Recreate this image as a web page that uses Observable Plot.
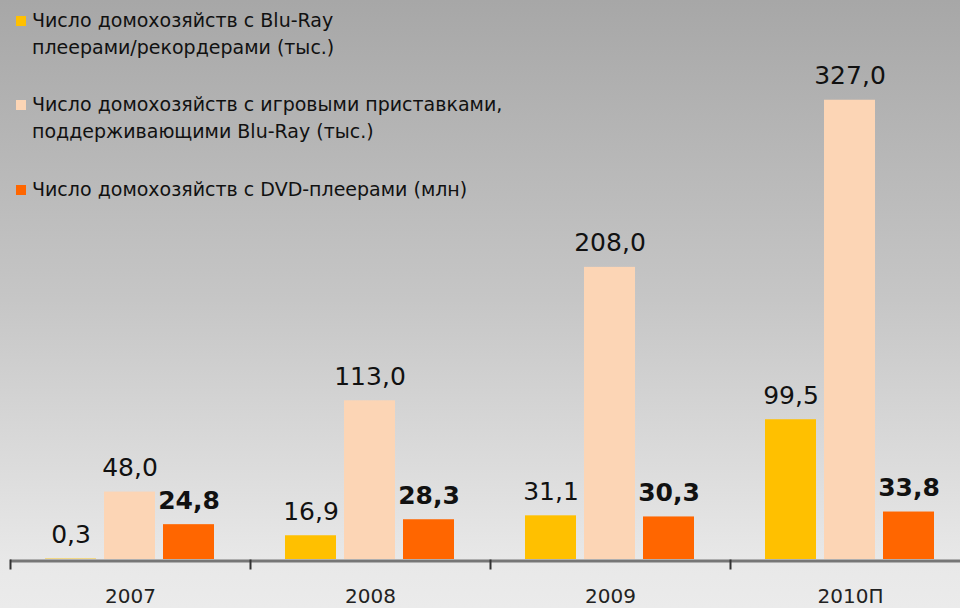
<!DOCTYPE html>
<html>
<head>
<meta charset="utf-8">
<script src="https://cdn.jsdelivr.net/npm/d3@7"></script>
<script src="https://cdn.jsdelivr.net/npm/@observablehq/plot@0.6"></script>
<style>
  html, body { margin: 0; padding: 0; }
  #wrap {
    position: relative; width: 960px; height: 608px; overflow: hidden;
    background: linear-gradient(to bottom, #a7a7a7 0px, #c6c6c6 300px, #e8e8e8 560px, #ebebeb 608px);
    font-family: "DejaVu Sans", Verdana, sans-serif;
  }
  #legend { position: absolute; left: 16px; top: 7px; color: #111; font-size: 19px; line-height: 27px; }
  .item { display: flex; align-items: flex-start; }
  .sw { width: 10px; height: 10px; margin-top: 9px; margin-right: 6px; flex: none; }
  #chart { position: absolute; left: 0; top: 0; }
</style>
</head>
<body>
<div id="wrap">
  <div id="chart"></div>
  <div id="legend"></div>
</div>
<script>
const years = ["2007", "2008", "2009", "2010П"];
const seriesNames = [
  "Число домохозяйств с Blu-Ray плеерами/рекордерами (тыс.)",
  "Число домохозяйств с игровыми приставками, поддерживающими Blu-Ray (тыс.)",
  "Число домохозяйств с DVD-плеерами (млн)"
];
const legendLines = [
  ["Число домохозяйств с Blu-Ray", "плеерами/рекордерами (тыс.)"],
  ["Число домохозяйств с игровыми приставками,", "поддерживающими Blu-Ray (тыс.)"],
  ["Число домохозяйств с DVD-плеерами (млн)"]
];
const blurayPlayers = [0.3, 16.9, 31.1, 99.5];
const consoles = [48.0, 113.0, 208.0, 327.0];
const dvdPlayers = [24.8, 28.3, 30.3, 33.8];
const colors = ["#FFC000", "#FCD5B5", "#FF6600"];

const seriesValues = [blurayPlayers, consoles, dvdPlayers];
const data = [];
years.forEach((y, i) => {
  seriesValues.forEach((vals, s) => {
    data.push({year: y, series: seriesNames[s], value: vals[i], bold: s === 2});
  });
});
const fmt = d => d.value.toFixed(1).replace(".", ",");

const chart = Plot.plot({
  width: 980,
  height: 608,
  marginLeft: 10,
  marginRight: 10,
  marginTop: 0,
  marginBottom: 49,
  style: {background: "transparent", maxWidth: "none", overflow: "visible"},
  fx: {domain: years, padding: 0, label: null},
  x: {domain: seriesNames, paddingInner: 0.133, paddingOuter: 0.567, axis: null},
  y: {domain: [0, 398], axis: null},
  color: {domain: seriesNames, range: colors},
  marks: [
    Plot.barY(data, {fx: "year", x: "series", y: "value", fill: "series"}),
    Plot.ruleY([0], {stroke: "#767676", strokeWidth: 3, dy: 1.5}),
    Plot.frame({anchor: "left", stroke: "#333", strokeWidth: 2, insetTop: 560, insetBottom: -9}),
    Plot.text(data.filter(d => !d.bold), {
      fx: "year", x: "series", y: "value", text: fmt,
      lineAnchor: "bottom", dy: -16, fontSize: 25, fill: "#111",
      fontFamily: "DejaVu Sans"
    }),
    Plot.text(data.filter(d => d.bold), {
      fx: "year", x: "series", y: "value", text: fmt,
      lineAnchor: "bottom", dy: -16, fontSize: 25, fontWeight: "bold", fill: "#111",
      fontFamily: "DejaVu Sans"
    }),
    Plot.axisFx({anchor: "bottom", tickSize: 0, tickPadding: 29, fontSize: 20, fill: "#222", label: null, fontFamily: "DejaVu Sans"})
  ]
});
document.getElementById("chart").appendChild(chart);

const legend = document.getElementById("legend");
legendLines.forEach((lines, s) => {
  const item = document.createElement("div");
  item.className = "item";
  item.style.marginBottom = s === 0 ? "30px" : (s === 1 ? "31px" : "0");
  const sw = document.createElement("div");
  sw.className = "sw";
  sw.style.background = colors[s];
  const txt = document.createElement("div");
  txt.innerHTML = lines.join("<br>");
  item.appendChild(sw);
  item.appendChild(txt);
  legend.appendChild(item);
});
</script>
</body>
</html>
